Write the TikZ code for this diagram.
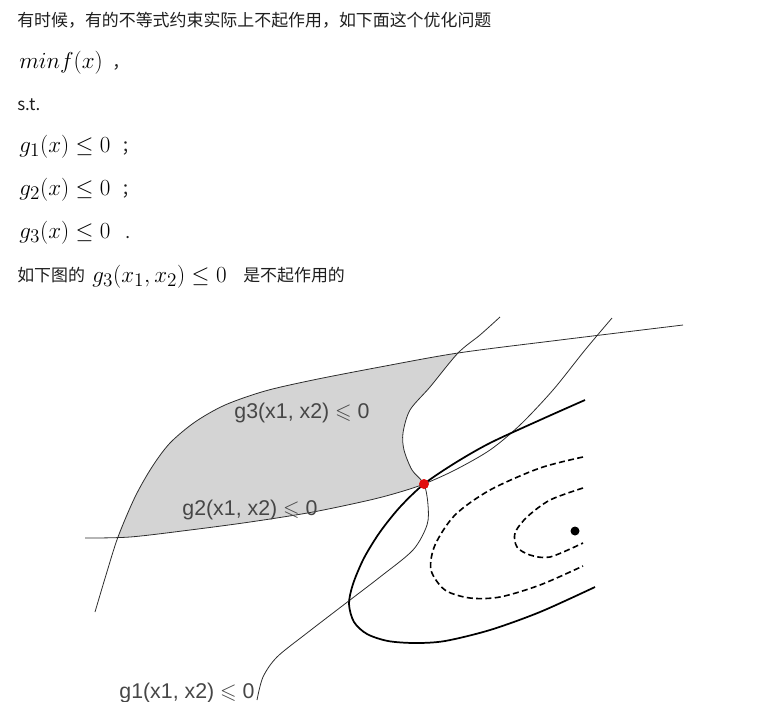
\documentclass[tikz,border=0pt]{standalone}
\usepackage{fontspec}
\usepackage{amssymb}
\newfontfamily\cjkfont{Noto Sans CJK SC}
\newfontfamily\labelfont{Liberation Sans}
\definecolor{feasgray}{RGB}{212,212,212}
\definecolor{curvegray}{RGB}{45,45,45}
\definecolor{labelgray}{RGB}{70,70,70}
\definecolor{optred}{RGB}{225,12,12}
\definecolor{textblack}{RGB}{30,30,30}

% constraint curves and contours (pixel units)
\newcommand{\gonecurve}{plot[smooth] coordinates {(500,317) (480,335) (458,353) (430,387) (410,410) (403,433) (404,450) (412,470) (424,484) (428,505) (427,525) (413,550) (380,577) (350,600) (307,633) (277,657) (263,677) (257,700)}}
\newcommand{\gtwocurve}{plot[smooth] coordinates {(85,538) (130,537) (190,530) (250,522) (313,512) (370,500) (400,492) (424,484) (455,470) (490,450) (520,425) (553,390) (585,350) (612,318)}}
\newcommand{\gthreecurve}{plot[smooth] coordinates {(95,612) (106,575) (118,537) (135,497) (152,467) (170,443) (195,422) (225,405) (265,391) (313,380) (380,367) (458,353) (560,340) (683,325)}}

\begin{document}
\begin{tikzpicture}[x=0.75pt, y=-0.75pt,
    constraint/.style={draw=curvegray, line width=0.6pt},
    contour/.style={draw=black, line width=1.3pt},
    level/.style={draw=black, line width=1.2pt, dash pattern=on 4.5pt off 2.5pt},
    txt/.style={font=\cjkfont\fontsize{12.7}{15}\selectfont, text=textblack, inner sep=0pt, anchor=base west},
    eq/.style={font=\fontsize{19}{21}\selectfont, inner sep=0pt, anchor=base west},
    lbl/.style={font=\labelfont\fontsize{16}{18}\selectfont, text=labelgray, inner sep=0pt, anchor=base}]

    \useasboundingbox (0,0) rectangle (770,701);

    % --- Text above the figure ---
    \node[txt] (intro) at (17,26) {有时候，有的不等式约束实际上不起作用，如下面这个优化问题};
    \node[eq] (obj) at (19,68) {$minf(x)$};
    \node[txt] (objp) at (112,68) {，};
    \node[txt] (st) at (17,110) {s.t.};
    \node[eq] (cone) at (19,152) {$g_1(x)\leq 0$};
    \node[txt] (conep) at (121,152) {；};
    \node[eq] (ctwo) at (19,195) {$g_2(x)\leq 0$};
    \node[txt] (ctwop) at (121,195) {；};
    \node[eq] (cthree) at (19,238) {$g_3(x)\leq 0$};
    \node[txt] (cthreep) at (125,238) {.};
    \node[txt] (fig) at (17,281) {如下图的};
    \node[eq] (figeq) at (92,282) {$g_3(x_1,x_2)\leq 0$};
    \node[txt] (figend) at (243,281) {是不起作用的};

    % --- Feasible region (shaded) ---
    \begin{scope}
      \clip \gtwocurve -- (612,0) -- (0,0) -- (0,538) -- cycle;
      \clip \gonecurve -- (0,701) -- (0,0) -- (500,0) -- cycle;
      \clip \gthreecurve -- (683,701) -- (95,701) -- cycle;
      \fill[feasgray] (0,0) rectangle (770,701);
    \end{scope}

    % --- Constraint curves ---
    \draw[constraint] \gonecurve;
    \draw[constraint] \gtwocurve;
    \draw[constraint] \gthreecurve;

    % --- Contours of f ---
    \draw[contour] plot[smooth] coordinates {(585,400) (540,420) (490,443) (455,463) (424,484) (400,507) (380,532) (364,558) (353,584) (349,604) (354,622) (367,634) (388,641) (415,643) (445,641) (490,630) (540,612) (595,587)};
    \draw[level] plot[smooth] coordinates {(583,457) (540,468) (490,490) (455,515) (435,545) (431,570) (445,590) (470,598) (500,597) (540,585) (583,566)};
    \draw[level] plot[smooth] coordinates {(583,488) (550,500) (527,517) (515,533) (517,547) (530,555) (550,557) (583,543)};

    % optimum and unconstrained minimum
    \fill[optred] (424,484) circle (5);
    \fill (575,531) circle (4.5);

    % --- Labels ---
    \node[lbl] (lthree) at (302,418) {g3(x1, x2) $\leqslant$ 0};
    \node[lbl] (ltwo) at (250,515) {g2(x1, x2) $\leqslant$ 0};
    \node[lbl] (lone) at (187,698) {g1(x1, x2) $\leqslant$ 0};

  \end{tikzpicture}
\end{document}
